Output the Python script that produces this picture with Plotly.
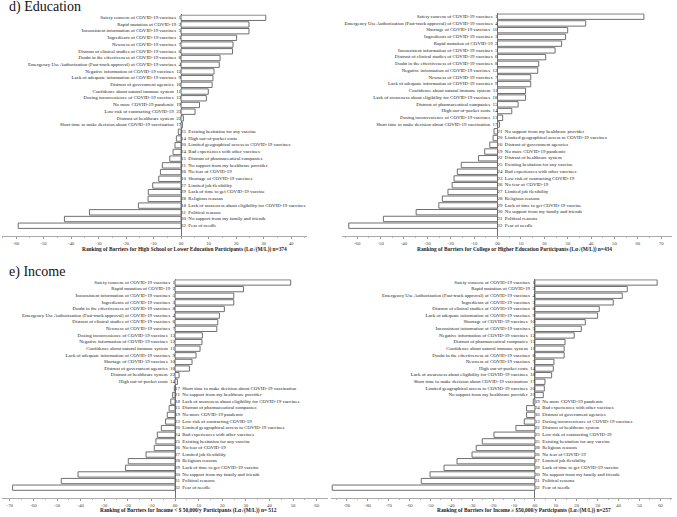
import plotly.graph_objects as go

BARRIERS = [
    "Safety concern of COVID-19 vaccines",
    "Rapid mutation of COVID-19",
    "Ingredients of COVID-19 vaccines",
    "Emergency Use Authorization (Fast-track approval) of COVID-19 vaccines",
    "Inconsistent information of COVID-19 vaccines",
    "Distrust of clinical studies of COVID-19 vaccines",
    "Newness of COVID-19 vaccines",
    "Doubt in the effectiveness of COVID-19 vaccines",
    "Lack of adequate information of COVID-19 vaccines",
    "Shortage of COVID-19 vaccines",
    "Confidence about natural immune system",
    "Negative information of COVID-19 vaccines",
    "Dosing inconvenience of COVID-19 vaccines",
    "High out-of-pocket costs",
    "Distrust of pharmaceutical companies",
    "Distrust of government agencies",
    "Short time to make decision about COVID-19 vaccination",
    "Lack of awareness about eligibility for COVID-19 vaccines",
    "No more COVID-19 pandemic",
    "Limited geographical access to COVID-19 vaccines",
    "No support from my healthcare provider",
    "Distrust of healthcare system",
    "Low risk of contracting COVID-19",
    "Bad experiences with other vaccines",
    "Existing hesitation for any vaccine",
    "No fear of COVID-19",
    "Limited job flexibility",
    "Religious reasons",
    "Lack of time to get COVID-19 vaccine",
    "No support from my family and friends",
    "Political reasons",
    "Fear of needle",
]

EDU_LOW_RANK = [1, 2, 5, 3, 7, 6, 8, 4, 12, 9, 16, 11, 13, 19, 23, 22, 17,
                25, 14, 20, 24, 15, 21, 26, 10, 27, 29, 28, 18, 31, 30, 32]
EDU_LOW_VAL = [30.8, 24.7, 24.7, 20.2, 18.9, 18.7, 14.2, 13.9, 12.0, 11.6, 11.3, 9.9, 9.2, 6.7, 5.1, 0.85, 0.5,
               -1.0, -1.7, -2.2, -2.9, -4.1, -6.8, -7.5, -8.1, -10.3, -11.9, -12.0, -15.5, -33.3, -42.4, -59.2]

EDU_HIGH_RANK = [1, 4, 10, 3, 2, 5, 6, 8, 12, 7, 9, 11, 18, 15, 14, 13, 17,
                 21, 20, 16, 19, 22, 25, 24, 23, 26, 27, 28, 29, 30, 31, 32]
EDU_HIGH_VAL = [62.6, 37.7, 30.0, 29.1, 27.4, 24.6, 20.6, 17.6, 17.2, 14.2, 14.2, 12.0, 12.0, 8.8, 6.1, 2.2, 0.8,
                -1.5, -1.9, -3.3, -5.5, -8.1, -15.5, -17.2, -18.6, -19.4, -21.2, -23.6, -25.1, -34.8, -48.8, -63.6]

INC_LOW_RANK = [1, 2, 5, 3, 8, 4, 6, 7, 13, 12, 11, 9, 10, 16, 22, 14,
                17, 21, 18, 15, 19, 23, 20, 24, 25, 26, 27, 28, 29, 30, 31, 32]
INC_LOW_VAL = [49.0, 29.0, 24.9, 24.9, 20.9, 18.8, 18.1, 17.7, 11.6, 11.4, 10.6, 8.9, 7.2, 6.1, 1.7, 1.0,
               -0.3, -1.0, -1.8, -2.5, -3.3, -4.0, -5.8, -7.5, -8.1, -8.8, -12.3, -19.8, -21.0, -41.1, -48.2, -68.8]

INC_HIGH_RANK = [1, 2, 4, 3, 6, 9, 10, 5, 12, 15, 11, 8, 7, 14, 18, 17, 20, 21,
                 19, 24, 16, 13, 22, 23, 25, 28, 26, 27, 29, 30, 31, 32]
INC_HIGH_VAL = [58.5, 44.2, 41.8, 37.5, 30.8, 30.0, 24.1, 22.2, 18.8, 14.4, 14.0, 14.0, 9.1, 8.8, 8.0, 4.8, 4.5, 4.0,
                -0.8, -4.0, -4.0, -5.1, -9.1, -19.6, -25.2, -28.1, -30.1, -37.3, -43.5, -50.2, -54.4, -97.0]

AXIS_TITLES = [
    "Ranking of Barriers for High School or Lower Education Participants (Lα√(M/L)) n=374",
    "Ranking of Barriers for College or Higher Education Participants (Lα√(M/L)) n=434",
    "Ranking of Barriers for Income < $ 50,000/y Participants (Lα√(M/L)) n= 512",
    "Ranking of Barriers for Income ≥ $50,000/y Participants (Lα√(M/L)) n=257",
]
PANEL_TITLES = ["d) Education", "e) Income"]

W, H = 677, 517
FONT = "Liberation Serif"
LABEL_SIZE = 4.9

PANELS = [
    dict(rank=EDU_LOW_RANK, val=EDU_LOW_VAL, xd=(2, 307), xr=(-65.1, 45.8), yd=(14.4, 236), yr=(-32.53, 0.5),
         ticks=list(range(-60, 50, 10)), title_x=184, title_y=249),
    dict(rank=EDU_HIGH_RANK, val=EDU_HIGH_VAL, xd=(342, 672), xr=(-66.5, 74.6), yd=(13.3, 236), yr=(-32.53, 0.5),
         ticks=list(range(-60, 80, 10)), title_x=514, title_y=249),
    dict(rank=INC_LOW_RANK, val=INC_LOW_VAL, xd=(2, 328), xr=(-73.3, 64.8), yd=(279.2, 498), yr=(-32.56, 0.5),
         ticks=list(range(-70, 70, 10)), title_x=188, title_y=510),
    dict(rank=INC_HIGH_RANK, val=INC_HIGH_VAL, xd=(331, 672), xr=(-97.6, 65.6), yd=(279.2, 498), yr=(-32.56, 0.5),
         ticks=list(range(-90, 70, 10)), title_x=524, title_y=510),
]

fig = go.Figure()
layout = dict(width=W, height=H, margin=dict(l=0, r=0, t=0, b=0),
              paper_bgcolor="white", plot_bgcolor="white", showlegend=False,
              font=dict(family=FONT, color="#222"))
annotations = []

for k, p in enumerate(PANELS):
    sfx = "" if k == 0 else str(k + 1)
    xa, ya = "x" + sfx, "y" + sfx
    ys = [-i for i in range(len(p["rank"]))]
    fig.add_trace(go.Bar(x=p["val"], y=ys, orientation="h", width=0.8,
                         marker=dict(color="white", line=dict(color="#6f6f6f", width=1)),
                         xaxis=xa, yaxis=ya, hoverinfo="skip"))
    pos_y, pos_t, neg_y, neg_t = [], [], [], []
    for yy, r, v in zip(ys, p["rank"], p["val"]):
        lab = BARRIERS[r - 1]
        if v >= 0:
            pos_y.append(yy)
            pos_t.append(lab + "\u00a0\u00a0" + str(r))
        else:
            neg_y.append(yy)
            neg_t.append(str(r) + "\u00a0\u00a0" + lab)
    fig.add_trace(go.Scatter(x=[0] * len(pos_y), y=pos_y, mode="text", text=pos_t, cliponaxis=False,
                             textposition="middle left", textfont=dict(size=LABEL_SIZE, family=FONT, color="#222"),
                             xaxis=xa, yaxis=ya, hoverinfo="skip", marker=dict(size=4)))
    fig.add_trace(go.Scatter(x=[0] * len(neg_y), y=neg_y, mode="text", text=neg_t, cliponaxis=False,
                             textposition="middle right", textfont=dict(size=LABEL_SIZE, family=FONT, color="#222"),
                             xaxis=xa, yaxis=ya, hoverinfo="skip", marker=dict(size=4)))
    ticktext = ["00" if t == 0 else str(t) for t in p["ticks"]]
    layout["xaxis" + sfx] = dict(domain=[p["xd"][0] / W, p["xd"][1] / W], range=list(p["xr"]),
                                 anchor=ya, tickvals=p["ticks"], ticktext=ticktext,
                                 tickfont=dict(size=4.8, family=FONT, color="#444"),
                                 showgrid=False, zeroline=True, zerolinecolor="#6f6f6f", zerolinewidth=1,
                                 showline=True, linecolor="#aaa", linewidth=0.6,
                                 ticks="outside", ticklen=2, tickcolor="#999", tickwidth=0.6,
                                 minor=dict(dtick=5, ticks="outside", ticklen=1.5, tickcolor="#bbb"),
                                 fixedrange=True)
    layout["yaxis" + sfx] = dict(domain=[1 - p["yd"][1] / H, 1 - p["yd"][0] / H], range=list(p["yr"]),
                                 anchor=xa, showticklabels=False, showgrid=False, zeroline=False,
                                 showline=False, ticks="", fixedrange=True)
    annotations.append(dict(text="<b>" + AXIS_TITLES[k] + "</b>", x=p["title_x"] / W, y=1 - p["title_y"] / H,
                            xref="paper", yref="paper", showarrow=False, xanchor="center", yanchor="middle",
                            font=dict(size=5.4, family=FONT, color="#222")))

annotations.append(dict(text=PANEL_TITLES[0], x=7 / W, y=1 - 7 / H, xref="paper", yref="paper",
                        showarrow=False, xanchor="left", yanchor="middle",
                        font=dict(size=14, family=FONT, color="#111")))
annotations.append(dict(text=PANEL_TITLES[1], x=7 / W, y=1 - 272 / H, xref="paper", yref="paper",
                        showarrow=False, xanchor="left", yanchor="middle",
                        font=dict(size=14, family=FONT, color="#111")))
layout["annotations"] = annotations
fig.update_layout(**layout)
fig.write_html("out.html", config={"displayModeBar": False},
               post_script="document.body.style.margin='0';document.body.style.padding='0';")
